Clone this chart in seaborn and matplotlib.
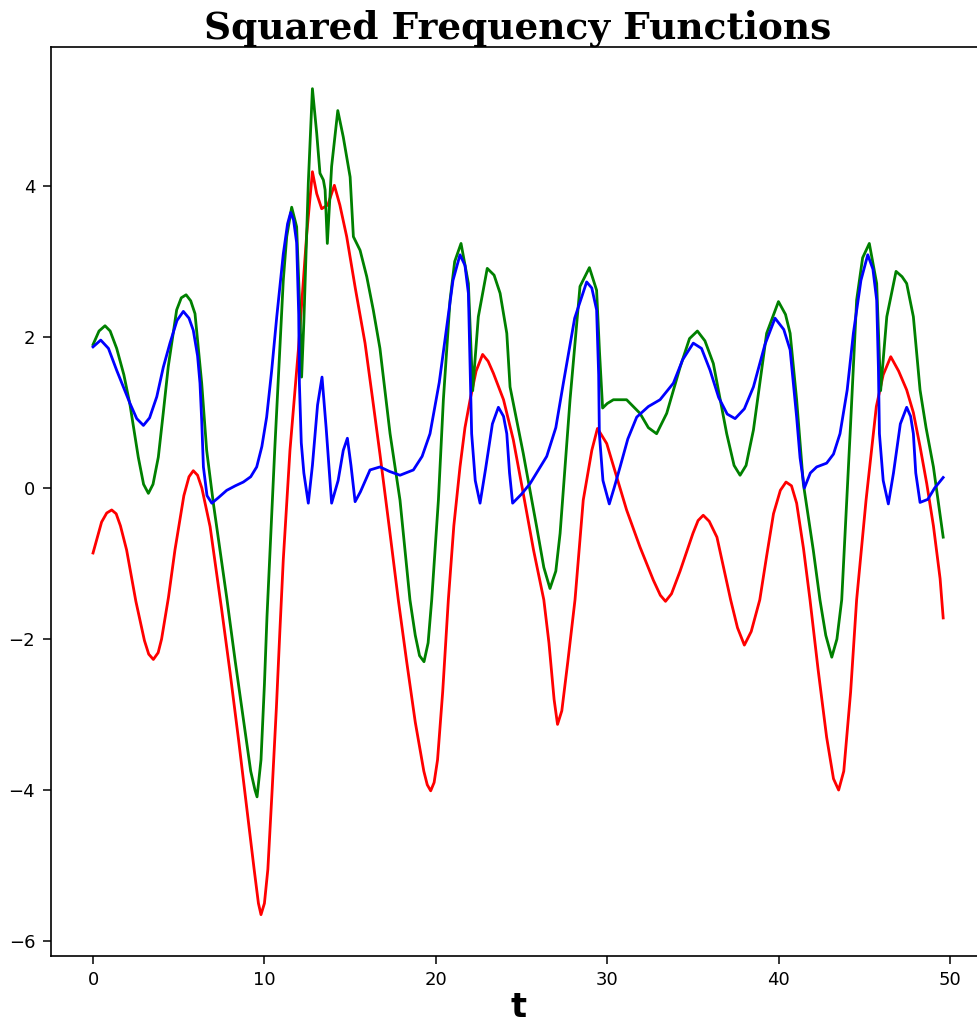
import matplotlib
matplotlib.use("Agg")
import matplotlib.pyplot as plt
import seaborn as sns

# --- red curve -------------------------------------------------------------
t_red = [0.0, 0.5, 0.8, 1.09, 1.35, 1.6, 1.96, 2.5, 3.0, 3.25, 3.52, 3.8,
         4.0, 4.4, 4.78, 5.3, 5.6, 5.85, 6.1, 6.35, 6.83, 7.02, 7.5, 8.0, 8.5,
         9.0, 9.4, 9.65, 9.8, 10.0, 10.2, 10.45, 10.7, 10.9, 11.1, 11.49,
         11.98, 12.47, 12.8, 13.05, 13.34, 13.7, 14.08, 14.4, 14.8, 15.3,
         15.87, 16.3, 16.74, 17.3, 17.81, 18.3, 18.8, 19.3, 19.5, 19.7, 19.9,
         20.1, 20.4, 20.73, 21.05, 21.41, 21.7, 22.0, 22.35, 22.73, 23.05,
         23.36, 23.95, 24.52, 25.1, 25.7, 26.3, 26.6, 26.9, 27.1, 27.35, 27.7,
         28.12, 28.6, 29.1, 29.43, 29.97, 30.55, 31.13, 31.91, 32.69, 33.1,
         33.4, 33.75, 34.25, 35.0, 35.3, 35.6, 35.95, 36.4, 37.2, 37.6, 38.0,
         38.4, 38.9, 39.3, 39.7, 40.1, 40.43, 40.75, 41.05, 41.45, 41.83,
         42.3, 42.8, 43.2, 43.5, 43.8, 44.2, 44.55, 45.1, 45.7, 46.1, 46.54,
         47.0, 47.47, 47.86, 48.25, 48.64, 49.03, 49.42, 49.6]
red = [-0.86, -0.45, -0.33, -0.29, -0.34, -0.5, -0.82, -1.5, -2.02, -2.2,
       -2.27, -2.18, -2.0, -1.45, -0.82, -0.1, 0.15, 0.23, 0.17, 0.0, -0.51,
       -0.82, -1.6, -2.45, -3.35, -4.3, -5.05, -5.5, -5.65, -5.5, -5.05, -4.0,
       -2.9, -1.9, -0.95, 0.5, 1.83, 3.37, 4.19, 3.9, 3.7, 3.75, 4.01, 3.75,
       3.33, 2.65, 1.92, 1.2, 0.45, -0.55, -1.48, -2.3, -3.1, -3.75, -3.93,
       -4.01, -3.9, -3.6, -2.7, -1.48, -0.5, 0.28, 0.8, 1.17, 1.55, 1.77, 1.68,
       1.52, 1.17, 0.64, -0.07, -0.82, -1.48, -2.05, -2.8, -3.13, -2.95,
       -2.3, -1.48, -0.16, 0.5, 0.79, 0.59, 0.15, -0.29, -0.78, -1.22, -1.42,
       -1.5, -1.4, -1.1, -0.6, -0.43, -0.36, -0.44, -0.65, -1.48, -1.85,
       -2.08, -1.9, -1.48, -0.9, -0.34, -0.03, 0.08, 0.03, -0.2, -0.8, -1.48,
       -2.4, -3.3, -3.85, -4.0, -3.75, -2.7, -1.48, -0.16, 1.08, 1.5, 1.74,
       1.55, 1.3, 1.0, 0.55, 0.06, -0.5, -1.2, -1.72]

# --- green curve -----------------------------------------------------------
t_green = [0.0, 0.35, 0.7, 1.0, 1.38, 1.8, 2.16, 2.64, 2.95, 3.23, 3.5, 3.81,
           4.1, 4.39, 4.88, 5.15, 5.43, 5.7, 5.95, 6.34, 6.63, 7.02, 7.41,
           7.8, 8.3, 8.8, 9.2, 9.45, 9.57, 9.8, 10.0, 10.15, 10.33, 10.6,
           10.91, 11.1, 11.3, 11.59, 11.88, 12.08, 12.17, 12.3, 12.56, 12.8,
           13.05, 13.24, 13.44, 13.54, 13.67, 13.92, 14.28, 14.6, 15.0, 15.19,
           15.58, 15.97, 16.35, 16.74, 17.33, 17.91, 18.49, 18.8, 19.05, 19.31,
           19.55, 19.76, 20.15, 20.44, 20.83, 21.1, 21.47, 21.9, 22.15, 22.48,
           23.0, 23.4, 23.75, 24.14, 24.33, 25.1, 25.88, 26.3, 26.66, 27.0,
           27.25, 27.83, 28.41, 28.96, 29.38, 29.55, 29.73, 30.0, 30.36, 31.13,
           31.91, 32.4, 32.88, 33.47, 34.25, 34.8, 35.26, 35.7, 36.19, 36.97,
           37.4, 37.75, 38.1, 38.53, 39.3, 39.99, 40.4, 40.67, 41.05, 41.44,
           42.02, 42.41, 42.75, 43.1, 43.4, 43.68, 44.17, 44.55, 44.9, 45.29,
           45.72, 45.95, 46.31, 46.85, 47.2, 47.47, 47.86, 48.25, 48.6, 49.03,
           49.6]
green = [1.9, 2.08, 2.15, 2.08, 1.85, 1.5, 1.1, 0.41, 0.05, -0.07, 0.05, 0.41,
         1.0, 1.61, 2.36, 2.52, 2.56, 2.48, 2.31, 1.39, 0.5, -0.2, -0.82,
         -1.45, -2.3, -3.1, -3.75, -4.0, -4.09, -3.6, -2.6, -1.7, -0.82, 0.5,
         1.9, 2.75, 3.33, 3.72, 3.46, 2.27, 1.47, 2.2, 4.04, 5.29, 4.7, 4.17,
         4.08, 3.95, 3.24, 4.26, 5.0, 4.65, 4.12, 3.33, 3.15, 2.8, 2.36, 1.85,
         0.72, -0.16, -1.48, -1.95, -2.22, -2.3, -2.05, -1.48, -0.16, 1.17,
         2.49, 3.0, 3.24, 2.71, 1.29, 2.27, 2.91, 2.82, 2.58, 2.05, 1.34, 0.46,
         -0.51, -1.05, -1.33, -1.1, -0.6, 1.17, 2.67, 2.92, 2.62, 1.8, 1.06,
         1.12, 1.17, 1.17, 0.99, 0.8, 0.72, 0.99, 1.6, 1.98, 2.08, 1.95, 1.65,
         0.72, 0.3, 0.17, 0.3, 0.77, 2.05, 2.47, 2.3, 2.05, 1.17, 0.06, -0.82,
         -1.48, -1.95, -2.24, -2.0, -1.48, 0.72, 2.49, 3.05, 3.24, 2.71, 1.29,
         2.27, 2.87, 2.8, 2.71, 2.27, 1.3, 0.8, 0.28, -0.65]

# --- blue curve ------------------------------------------------------------
t_blue = [0.0, 0.45, 0.9, 1.38, 2.16, 2.55, 2.94, 3.3, 3.72, 4.1, 4.49, 4.9,
          5.27, 5.6, 5.85, 6.1, 6.24, 6.34, 6.44, 6.65, 6.93, 7.3, 7.8, 8.3,
          8.77, 9.2, 9.55, 9.85, 10.13, 10.42, 10.72, 11.1, 11.35, 11.53, 11.7,
          11.88, 12.0, 12.04, 12.15, 12.3, 12.56, 12.8, 13.1, 13.36, 13.6,
          13.92, 14.3, 14.6, 14.84, 15.05, 15.29, 15.6, 16.16, 16.74, 17.3,
          17.91, 18.69, 19.2, 19.66, 20.2, 20.64, 21.0, 21.41, 21.7, 21.9,
          22.0, 22.09, 22.3, 22.58, 22.9, 23.3, 23.65, 23.95, 24.14, 24.3,
          24.48, 25.0, 25.5, 26.47, 27.0, 27.44, 28.1, 28.8, 29.1, 29.38, 29.5,
          29.54, 29.75, 30.12, 30.4, 30.75, 31.2, 31.72, 32.4, 33.08, 33.86,
          34.4, 35.02, 35.5, 36.0, 36.5, 37.0, 37.46, 38.0, 38.53, 39.2, 39.79,
          40.3, 40.67, 41.05, 41.25, 41.5, 41.85, 42.22, 42.8, 43.2, 43.58,
          44.0, 44.36, 44.8, 45.2, 45.5, 45.72, 45.82, 45.88, 46.1, 46.4, 46.7,
          47.1, 47.47, 47.7, 47.86, 48.0, 48.25, 48.7, 49.1, 49.6]
blue = [1.87, 1.96, 1.85, 1.56, 1.12, 0.92, 0.83, 0.93, 1.21, 1.6, 1.92, 2.22,
        2.34, 2.25, 2.09, 1.75, 1.39, 0.9, 0.28, -0.1, -0.2, -0.13, -0.03,
        0.03, 0.08, 0.15, 0.28, 0.55, 0.94, 1.55, 2.27, 3.1, 3.5, 3.65, 3.55,
        3.25, 2.3, 1.39, 0.6, 0.2, -0.2, 0.3, 1.1, 1.47, 0.8, -0.2, 0.1, 0.5,
        0.66, 0.3, -0.18, -0.05, 0.24, 0.28, 0.22, 0.17, 0.24, 0.42, 0.72, 1.4,
        2.14, 2.75, 3.09, 2.95, 2.58, 1.6, 0.72, 0.1, -0.2, 0.25, 0.85, 1.07,
        0.95, 0.72, 0.2, -0.2, -0.08, 0.06, 0.42, 0.8, 1.39, 2.25, 2.73, 2.65,
        2.36, 1.5, 0.72, 0.1, -0.21, 0.0, 0.28, 0.65, 0.94, 1.08, 1.17, 1.39,
        1.7, 1.92, 1.85, 1.56, 1.2, 0.98, 0.92, 1.05, 1.34, 1.9, 2.25, 2.1,
        1.83, 0.94, 0.4, 0.0, 0.2, 0.28, 0.33, 0.45, 0.72, 1.3, 2.05, 2.75,
        3.09, 2.9, 2.49, 1.6, 0.72, 0.1, -0.21, 0.2, 0.85, 1.07, 0.95, 0.72,
        0.2, -0.19, -0.15, 0.0, 0.14]

title_text = "Squared Frequency Functions"
x_label = "t"

plt.rcParams["font.family"] = ["DejaVu Sans"]

fig = plt.figure(figsize=(9.77, 10.30), dpi=100)
ax = fig.add_axes([0.0517, 0.0719, 0.9572, 0.8821])

sns.lineplot(x=t_red, y=red, color="red", linewidth=2.0, ax=ax,
             estimator=None, sort=False)
sns.lineplot(x=t_green, y=green, color="green", linewidth=2.0, ax=ax,
             estimator=None, sort=False)
sns.lineplot(x=t_blue, y=blue, color="blue", linewidth=2.0, ax=ax,
             estimator=None, sort=False)

ax.set_title(title_text, fontsize=27, fontweight="bold",
             family="DejaVu Serif", pad=2)
ax.set_xlabel(x_label, fontsize=24, fontweight="bold", labelpad=1)
ax.tick_params(axis="both", labelsize=13, length=6, width=1.1, pad=5)
for side in ax.spines.values():
    side.set_linewidth(1.2)

fig.savefig("out.png", dpi=100)
